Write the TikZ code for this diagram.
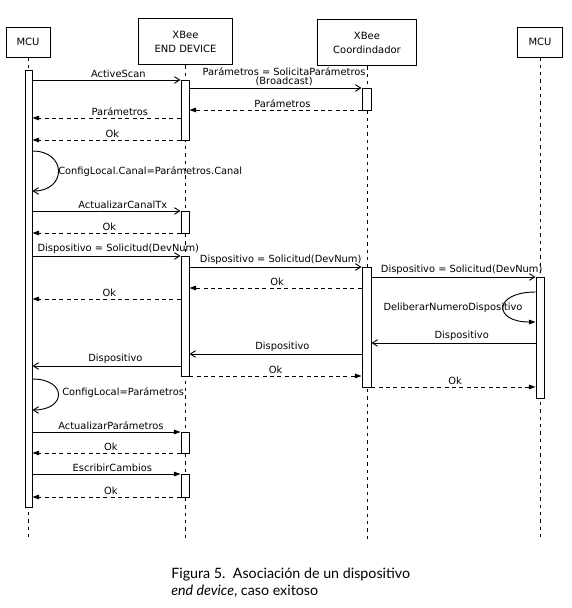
\documentclass[tikz,border=0pt]{standalone}
\usepackage{fontspec}
\setmainfont{DejaVu Sans}
\newfontfamily\capfont{Lato}
\usetikzlibrary{arrows.meta,fit}

\begin{document}
\begin{tikzpicture}[x=0.75pt,y=-0.75pt,
    head/.style={draw,fill=white,line width=0.7pt,align=center,inner sep=0pt,font=\fontsize{7.5}{10.5}\selectfont},
    actbar/.style={draw,fill=white,line width=0.7pt,inner sep=0pt},
    lifeline/.style={line width=0.5pt,dash pattern=on 2.5pt off 3pt},
    msg/.style={line width=0.7pt,-{Straight Barb[length=4pt,width=5pt]}},
    msgf/.style={line width=0.7pt,-{Triangle[length=5pt,width=3.5pt]}},
    reply/.style={line width=0.7pt,dash pattern=on 3pt off 2.5pt,-{Triangle[length=5pt,width=3.5pt]}},
    lbl/.style={above,inner sep=1.5pt,font=\fontsize{7.4}{7.4}\selectfont},
    note/.style={anchor=west,inner sep=0pt,font=\fontsize{7.4}{7.4}\selectfont}]
  \useasboundingbox[fill=white] (0,0) rectangle (572,608);
  % heads and lifelines
  \node[head,minimum width=33pt,minimum height=22.5pt] (mcuA) at (28,42) {MCU};
  \node[head,minimum width=70pt,minimum height=35pt] (endDev) at (185.5,41.5) {XBee\\END DEVICE};
  \node[head,minimum width=74pt,minimum height=35pt] (coord) at (367,42.5) {XBee\\Coordindador};
  \node[head,minimum width=34pt,minimum height=22.5pt] (mcuB) at (540,42) {MCU};
  \draw[lifeline] (mcuA.south) -- (mcuA|-0,540);
  \draw[lifeline] (endDev.south) -- (endDev|-0,540);
  \draw[lifeline] (coord.south) -- (coord|-0,540);
  \draw[lifeline] (mcuB.south) -- (mcuB|-0,540);
  % activation bars
  \node[actbar,fit={(25,70) (32,507)}] (barA) {};
  \node[actbar,fit={(181,80) (189,140)}] (ed1) {};
  \node[actbar,fit={(362,88) (371,110)}] (co1) {};
  \node[actbar,fit={(181,211) (189,233)}] (ed2) {};
  \node[actbar,fit={(181,256) (189,376)}] (ed3) {};
  \node[actbar,fit={(362,267) (371,387)}] (co2) {};
  \node[actbar,fit={(536,277) (544,398)}] (barB) {};
  \node[actbar,fit={(181,432) (189,453)}] (ed4) {};
  \node[actbar,fit={(181,474) (189,497)}] (ed5) {};
  % messages
  \draw[msg] (barA.east|-0,80) -- node[lbl,pos=0.58]{ActiveScan} (ed1.west|-0,80);
  \draw[msg] (ed1.east|-0,88) -- node[lbl,pos=0.55,align=center,font=\fontsize{7.4}{6.8}\selectfont]{Parámetros = SolicitaParámetros\\(Broadcast)} (co1.west|-0,88);
  \draw[reply] (co1.west|-0,110) -- node[lbl,pos=0.46]{Parámetros} (ed1.east|-0,110);
  \draw[reply] (ed1.west|-0,118) -- node[lbl,pos=0.41]{Parámetros} (barA.east|-0,118);
  \draw[reply] (ed1.west|-0,140) -- node[lbl,pos=0.46]{Ok} (barA.east|-0,140);
  \draw[msg] (barA.east|-0,151) .. controls (67,151) and (67,191) .. (barA.east|-0,191);
  \node[note] (cfgCanal) at (58,172) {ConfigLocal.Canal=Parámetros.Canal};
  \draw[msg] (barA.east|-0,211) -- node[lbl,pos=0.61]{ActualizarCanalTx} (ed2.west|-0,211);
  \draw[reply] (ed2.west|-0,233) -- node[lbl,pos=0.48]{Ok} (barA.east|-0,233);
  \draw[msg] (barA.east|-0,256) -- node[lbl,pos=0.58]{Dispositivo = Solicitud(DevNum)} (ed3.west|-0,256);
  \draw[msg] (ed3.east|-0,267) -- node[lbl,pos=0.53]{Dispositivo = Solicitud(DevNum)} (co2.west|-0,267);
  \draw[msg] (co2.east|-0,277) -- node[lbl,pos=0.55]{Dispositivo = Solicitud(DevNum)} (barB.west|-0,277);
  \draw[reply] (co2.west|-0,288) -- node[lbl,pos=0.49]{Ok} (ed3.east|-0,288);
  \draw[reply] (ed3.west|-0,299) -- node[lbl,pos=0.48]{Ok} (barA.east|-0,299);
  \draw[msgf] (barB.west|-0,292) .. controls (493,292) and (493,322) .. (barB.west|-0,322);
  \node[font=\fontsize{7.4}{7.4}\selectfont,inner sep=0pt] (deliberar) at (453,308) {DeliberarNumeroDispositivo};
  \draw[msg] (barB.west|-0,343) -- node[lbl,pos=0.45]{Dispositivo} (co2.east|-0,343);
  \draw[msg] (co2.west|-0,354) -- node[lbl,pos=0.46]{Dispositivo} (ed3.east|-0,354);
  \draw[msg] (ed3.west|-0,366) -- node[lbl,pos=0.44]{Dispositivo} (barA.east|-0,366);
  \draw[reply] (ed3.east|-0,376) -- node[lbl,pos=0.5]{Ok} (co2.west|-0,376);
  \draw[reply] (co2.east|-0,387) -- node[lbl,pos=0.51]{Ok} (barB.west|-0,387);
  \draw[msg] (barA.east|-0,379) .. controls (67,379) and (67,410) .. (barA.east|-0,410);
  \node[note] (cfgParam) at (62,393) {ConfigLocal=Parámetros};
  \draw[msgf] (barA.east|-0,432) -- node[lbl,pos=0.53]{ActualizarParámetros} (ed4.west|-0,432);
  \draw[reply] (ed4.west|-0,453) -- node[lbl,pos=0.47]{Ok} (barA.east|-0,453);
  \draw[msgf] (barA.east|-0,474) -- node[lbl,pos=0.54]{EscribirCambios} (ed5.west|-0,474);
  \draw[reply] (ed5.west|-0,497) -- node[lbl,pos=0.47]{Ok} (barA.east|-0,497);
  % caption
  \node[anchor=north west,align=left,inner sep=0pt,font=\capfont\fontsize{10.7}{12.5}\selectfont] (caption) at (171,568)
    {Figura 5.\ \ Asociación de un dispositivo\\\textit{end device}, caso exitoso};
\end{tikzpicture}
\end{document}
